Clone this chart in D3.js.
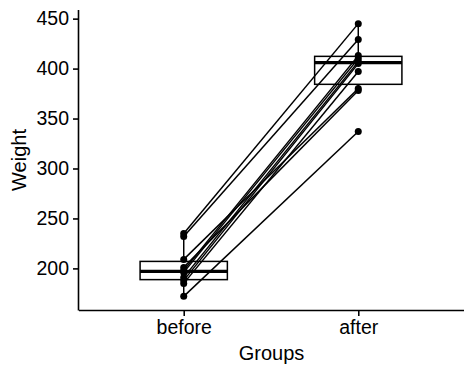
<!DOCTYPE html>
<html>
<head>
<meta charset="utf-8">
<script src="https://cdn.jsdelivr.net/npm/d3@7"></script>
<style>
  body { margin: 0; background: #fff; }
  svg { display: block; font-family: "Liberation Sans", Arial, sans-serif; }
</style>
</head>
<body>
<div id="chart"></div>
<script>
// Data (paired weights)
const groups = ["before", "after"];
const before = [235, 232, 209, 201, 198, 196, 191, 188, 185, 172];
const after = [445, 429, 380, 378, 413, 410, 407, 405, 397, 337];
const yTicks = [200, 250, 300, 350, 400, 450];

const W = 474, H = 374;
const margin = { top: 10, right: 10, bottom: 64, left: 79 };

const svg = d3.select("#chart").append("svg")
    .attr("width", W)
    .attr("height", H);

// x scale: padding 0.6 like ggplot's discrete expansion
const x = d3.scalePoint()
    .domain(groups)
    .range([margin.left, W - margin.right - 1])
    .padding(0.6);

// y scale with 5% expansion of the data range
const all = before.concat(after);
const lo = d3.min(all), hi = d3.max(all), pad = (hi - lo) * 0.05;
const y = d3.scaleLinear()
    .domain([lo - pad, hi + pad])
    .range([H - margin.bottom, margin.top]);

const step = x.step();
const boxW = step * 0.5;

// Boxplots
const series = { before: before, after: after };
groups.forEach(g => {
  const v = series[g].slice().sort(d3.ascending);
  const q1 = d3.quantile(v, 0.25), med = d3.quantile(v, 0.5), q3 = d3.quantile(v, 0.75);
  const iqr = q3 - q1;
  const wLo = d3.min(v.filter(d => d >= q1 - 1.5 * iqr));
  const wHi = d3.max(v.filter(d => d <= q3 + 1.5 * iqr));
  const cx = x(g);
  const bg = svg.append("g").attr("stroke", "#000").attr("fill", "none");
  bg.append("line").attr("x1", cx).attr("x2", cx).attr("y1", y(q3)).attr("y2", y(wHi)).attr("stroke-width", 1.5);
  bg.append("line").attr("x1", cx).attr("x2", cx).attr("y1", y(q1)).attr("y2", y(wLo)).attr("stroke-width", 1.5);
  bg.append("rect")
      .attr("x", cx - boxW / 2).attr("width", boxW)
      .attr("y", y(q3)).attr("height", y(q1) - y(q3))
      .attr("fill", "#fff").attr("stroke-width", 1.5);
  bg.append("line")
      .attr("x1", cx - boxW / 2).attr("x2", cx + boxW / 2)
      .attr("y1", y(med)).attr("y2", y(med))
      .attr("stroke-width", 3.2);
});

// Paired lines
const pairs = before.map((b, i) => ({ b: b, a: after[i] }));
svg.append("g")
    .selectAll("line")
    .data(pairs)
    .enter().append("line")
    .attr("x1", x("before")).attr("y1", d => y(d.b))
    .attr("x2", x("after")).attr("y2", d => y(d.a))
    .attr("stroke", "#000")
    .attr("stroke-width", 1.5);

// Points
const pts = before.map(v => ({ g: "before", v: v })).concat(after.map(v => ({ g: "after", v: v })));
svg.append("g")
    .selectAll("circle")
    .data(pts)
    .enter().append("circle")
    .attr("cx", d => x(d.g))
    .attr("cy", d => y(d.v))
    .attr("r", 3.5)
    .attr("fill", "#000");

// Axes
const xAxis = svg.append("g")
    .attr("transform", `translate(0,${H - margin.bottom})`)
    .call(d3.axisBottom(x).tickSize(6).tickPadding(4));
xAxis.select(".domain").attr("d", `M${margin.left},0.5H${W - margin.right}`);

const yAxis = svg.append("g")
    .attr("transform", `translate(${margin.left},0)`)
    .call(d3.axisLeft(y).tickValues(yTicks).tickSize(6).tickPadding(4));
yAxis.select(".domain").attr("d", `M-0.5,${margin.top}V${H - margin.bottom + 0.5}`);

[xAxis, yAxis].forEach(a => {
  a.selectAll(".domain").attr("stroke", "#000").attr("stroke-width", 1.6);
  a.selectAll(".tick line").attr("stroke", "#000").attr("stroke-width", 1.6);
  a.selectAll(".tick text")
      .attr("fill", "#000")
      .style("font-size", "19.5px")
      .style("font-family", "'Liberation Sans', Arial, sans-serif");
});

// Axis titles
svg.append("text")
    .attr("x", (margin.left + W - margin.right) / 2)
    .attr("y", 360)
    .attr("text-anchor", "middle")
    .style("font-size", "20px")
    .text("Groups");

svg.append("text")
    .attr("transform", `translate(26,${(margin.top + H - margin.bottom) / 2}) rotate(-90)`)
    .attr("text-anchor", "middle")
    .style("font-size", "20px")
    .text("Weight");
</script>
</body>
</html>
